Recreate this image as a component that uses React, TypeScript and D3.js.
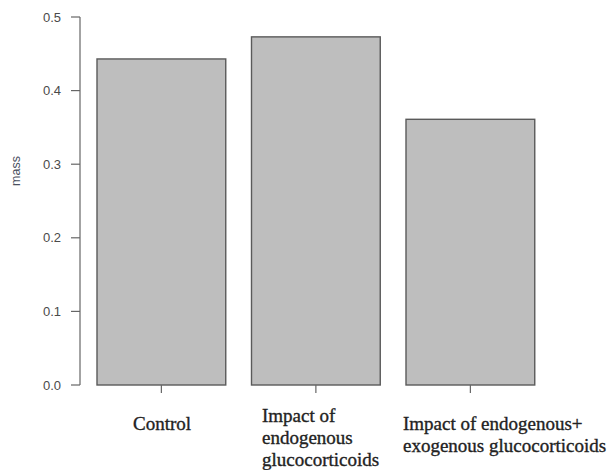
import React from "react";
import * as d3 from "d3";

const categories = ["Control", "Impact of endogenous", "Impact of endogenous+ exogenous"];
const values = [0.443, 0.473, 0.361];
const yTicks = [0.0, 0.1, 0.2, 0.3, 0.4, 0.5];
const labelLines = [
  ["Control"],
  ["Impact of", "endogenous", "glucocorticoids"],
  ["Impact of endogenous+", "exogenous glucocorticoids"],
];
const yLabel = "mass";

export default function App() {
  const W = 614, H = 470;
  const y = d3.scaleLinear().domain([0, 0.5]).range([385, 17]);
  // R-style barplot: width 1, space 0.2
  const x = d3.scaleLinear().domain([0.2, 3.6]).range([97, 97 + 3.4 * 128.75]);
  const barX = (i: number) => x(0.2 + i * 1.2);
  const barW = x(1.2) - x(0.2);
  const labelX = [133, 262, 403];
  const labelBase = [430, 421.5, 429.5];
  const serif = "'Liberation Serif', 'Times New Roman', serif";
  return (
    <svg width={W} height={H} style={{ position: "absolute", left: 0, top: 0, background: "#fff" }}>
      {values.map((v, i) => (
        <rect key={i} x={barX(i)} y={y(v)} width={barW} height={y(0) - y(v)}
          fill="#bebebe" stroke="#5a5a5a" strokeWidth={1.4} />
      ))}
      {/* y axis */}
      <line x1={80} x2={80} y1={y(0.5)} y2={y(0)} stroke="#666" strokeWidth={1.2} />
      {yTicks.map((t) => (
        <g key={t}>
          <line x1={71} x2={80} y1={y(t)} y2={y(t)} stroke="#666" strokeWidth={1.2} />
          <text x={61} y={y(t)} dy="0.35em" textAnchor="end" fontSize={13}
            fontFamily="'Liberation Sans', Arial, sans-serif" fill="#4a4a4a">{t.toFixed(1)}</text>
        </g>
      ))}
      <text transform={`translate(20,171) rotate(-90)`} textAnchor="middle" fontSize={12.5}
        fontFamily="'Liberation Sans', Arial, sans-serif" fill="#4a5060">{yLabel}</text>
      {/* x ticks */}
      {values.map((_, i) => (
        <line key={i} x1={barX(i) + barW / 2} x2={barX(i) + barW / 2} y1={385} y2={393}
          stroke="#666" strokeWidth={1.2} />
      ))}
      {labelLines.map((lines, i) => (
        <text key={i} fontFamily={serif} fontSize={19} fill="#222" stroke="#222" strokeWidth={0.35}>
          {lines.map((l, j) => (
            <tspan key={j} x={labelX[i]} y={labelBase[i] + j * 22}>{l}</tspan>
          ))}
        </text>
      ))}
    </svg>
  );
}
